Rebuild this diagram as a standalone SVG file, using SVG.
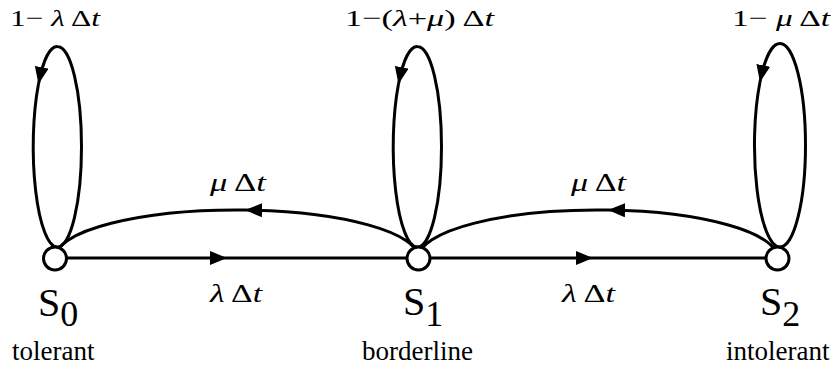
<svg xmlns="http://www.w3.org/2000/svg" width="835" height="373" viewBox="0 0 835 373" font-family="'Liberation Serif', 'Times New Roman', serif">
<style>
.ln{fill:none;stroke:#000;stroke-width:3}
.nd{fill:#fff;stroke:#000;stroke-width:3}
</style>
<defs>
<marker id="ah" markerUnits="userSpaceOnUse" markerWidth="20" markerHeight="16" refX="17" refY="7" orient="auto">
<path d="M0,0 L17,7 L0,14 z" fill="#000"/>
</marker>
</defs>
<g id="connectors">
<path class="ln" d="M57.5,247 A24,100.25 0 0 0 57.5,46.5 A24,100.25 0 0 0 38.5,84" marker-end="url(#ah)"/>
<path class="ln" d="M38.5,84 A24,100.25 0 0 0 57.5,247"/>
<path class="ln" d="M417.5,247 A24,100.25 0 0 0 417.5,46.5 A24,100.25 0 0 0 398.5,84" marker-end="url(#ah)"/>
<path class="ln" d="M398.5,84 A24,100.25 0 0 0 417.5,247"/>
<path class="ln" d="M780,247 A25.5,101.75 0 0 0 780,43.5 A25.5,101.75 0 0 0 760,82" marker-end="url(#ah)"/>
<path class="ln" d="M760,82 A25.5,101.75 0 0 0 780,247"/>
<path class="ln" d="M418.5,258 A181.75,48 0 0 0 245,210.05" marker-end="url(#ah)"/>
<path class="ln" d="M245,210.05 A181.75,48 0 0 0 55,258"/>
<path class="ln" d="M777.5,258 A179.5,48 0 0 0 608,210.07" marker-end="url(#ah)"/>
<path class="ln" d="M608,210.07 A179.5,48 0 0 0 418.5,258"/>
<path class="ln" d="M55,258 L227,258" marker-end="url(#ah)"/>
<path class="ln" d="M227,258 L418.5,258"/>
<path class="ln" d="M418.5,258 L593,258" marker-end="url(#ah)"/>
<path class="ln" d="M593,258 L777.5,258"/>
</g>
<g id="labels" font-family="Liberation Serif">
<text x="10" y="26" font-size="24" textLength="90" lengthAdjust="spacingAndGlyphs">1− <tspan font-style="italic">λ</tspan> Δ<tspan font-style="italic">t</tspan></text>
<text x="345" y="26" font-size="24" textLength="149" lengthAdjust="spacingAndGlyphs">1−(<tspan font-style="italic">λ</tspan>+<tspan font-style="italic">μ</tspan>) Δ<tspan font-style="italic">t</tspan></text>
<text x="732" y="26" font-size="24" textLength="98" lengthAdjust="spacingAndGlyphs">1− <tspan font-style="italic">μ</tspan> Δ<tspan font-style="italic">t</tspan></text>
<text x="210" y="191" font-size="25" textLength="56" lengthAdjust="spacingAndGlyphs"><tspan font-style="italic">μ</tspan> Δ<tspan font-style="italic">t</tspan></text>
<text x="571" y="191" font-size="25" textLength="55" lengthAdjust="spacingAndGlyphs"><tspan font-style="italic">μ</tspan> Δ<tspan font-style="italic">t</tspan></text>
<text x="210" y="302" font-size="25" textLength="52" lengthAdjust="spacingAndGlyphs"><tspan font-style="italic">λ</tspan> Δ<tspan font-style="italic">t</tspan></text>
<text x="562" y="302" font-size="25" textLength="53" lengthAdjust="spacingAndGlyphs"><tspan font-style="italic">λ</tspan> Δ<tspan font-style="italic">t</tspan></text>
</g>
<g id="S0" font-family="Liberation Serif">
<circle class="nd" cx="55" cy="258.5" r="11.5"/>
<text x="38" y="316" font-size="40">S<tspan font-size="36" dy="10">0</tspan></text>
<text x="12" y="360" font-size="27">tolerant</text>
</g>
<g id="S1" font-family="Liberation Serif">
<circle class="nd" cx="418.5" cy="258.5" r="11.5"/>
<text x="403" y="315" font-size="40">S<tspan font-size="36" dy="11">1</tspan></text>
<text x="362" y="360" font-size="27">borderline</text>
</g>
<g id="S2" font-family="Liberation Serif">
<circle class="nd" cx="777.5" cy="258.5" r="11.5"/>
<text x="760" y="315" font-size="40">S<tspan font-size="36" dy="11">2</tspan></text>
<text x="726" y="360" font-size="27">intolerant</text>
</g>
</svg>
